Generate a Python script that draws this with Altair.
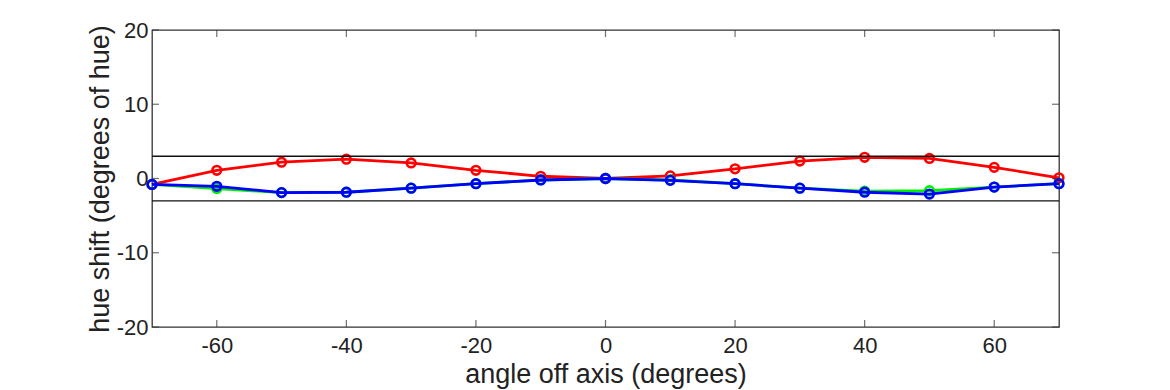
import altair as alt
import pandas as pd

angles = [-70, -60, -50, -40, -30, -20, -10, 0, 10, 20, 30, 40, 50, 60, 70]
red = [-0.8, 1.1, 2.2, 2.6, 2.1, 1.1, 0.3, 0.0, 0.35, 1.3, 2.35, 2.85, 2.7, 1.5, 0.1]
green = [-0.8, -1.35, -1.9, -1.85, -1.3, -0.7, -0.2, 0.0, -0.2, -0.7, -1.3, -1.7, -1.65, -1.15, -0.7]
blue = [-0.8, -1.05, -1.9, -1.85, -1.3, -0.7, -0.2, 0.0, -0.25, -0.7, -1.3, -1.85, -2.1, -1.15, -0.7]
thresholds = [3, -3]
x_ticks = [-60, -40, -20, 0, 20, 40, 60]
y_ticks = [-20, -10, 0, 10, 20]

series = [("red", red, "#ff0000"), ("green", green, "#00ee00"), ("blue", blue, "#0000ff")]
rows = []
for name, vals, _ in series:
    for a, v in zip(angles, vals):
        rows.append({"angle": a, "shift": v, "series": name})
df = pd.DataFrame(rows)

FONT = "Liberation Sans"
W, H = 907, 297
TL = 7
xs = alt.Scale(domain=[-70, 70], nice=False, zero=False)
ys = alt.Scale(domain=[-20, 20], nice=False, zero=False)

x_axis = alt.Axis(values=x_ticks, ticks=False, domain=False, grid=False, labelFontSize=22,
                  labelColor="#222", labelPadding=8, title="angle off axis (degrees)",
                  titleFontSize=27, titleFontWeight="normal", titleColor="#222", titlePadding=5,
                  labelFont=FONT, titleFont=FONT,
                  labelExpr="replace(datum.label, '\u2212', '-')", labelFlush=False)
y_axis = alt.Axis(values=y_ticks, ticks=False, domain=False, grid=False, labelFontSize=22,
                  labelColor="#222", labelPadding=4, title="hue shift (degrees of hue)",
                  titleFontSize=27, titleFontWeight="normal", titleColor="#222", titlePadding=2,
                  labelFont=FONT, titleFont=FONT,
                  labelExpr="replace(datum.label, '\u2212', '-')", labelFlush=False)

X = alt.X("angle:Q", scale=xs, axis=x_axis)
Y = alt.Y("shift:Q", scale=ys, axis=y_axis)

layers = []
for name, vals, color in series:
    sub = df[df.series == name]
    layers.append(alt.Chart(sub).mark_line(color=color, strokeWidth=2.8).encode(x=X, y=Y))
    layers.append(alt.Chart(sub).mark_point(color=color, shape="circle", filled=False,
                                            opacity=1, size=75, strokeWidth=2.6).encode(x=X, y=Y))

thr = alt.Chart(pd.DataFrame({"shift": thresholds})).mark_rule(
    color="#111", strokeWidth=1.3).encode(y=Y)

xt = pd.DataFrame({"angle": x_ticks})
yt = pd.DataFrame({"shift": y_ticks})
tick_style = dict(color="#333", thickness=1.2, size=TL)
tick_layers = []
for ypos in [TL / 2, H - TL / 2]:
    tick_layers.append(alt.Chart(xt).mark_tick(orient="vertical", **tick_style).encode(
        x=X, y=alt.value(ypos)))
for xpos in [TL / 2, W - TL / 2]:
    tick_layers.append(alt.Chart(yt).mark_tick(orient="horizontal", **tick_style).encode(
        y=Y, x=alt.value(xpos)))

chart = alt.layer(*layers, thr, *tick_layers).properties(
    width=W, height=H,
    autosize=alt.AutoSizeParams(type="none"),
    padding={"left": 144, "top": 22, "right": 90, "bottom": 62},
    background="white",
).configure_view(stroke="#333", strokeWidth=1.3)

chart.save("out.html", embed_options={"renderer": "svg", "actions": False})
